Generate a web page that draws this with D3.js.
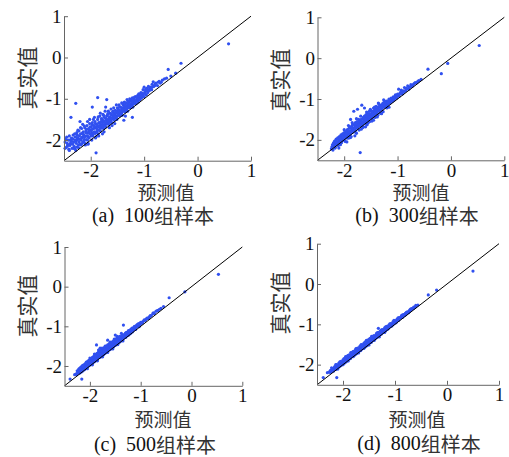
<!DOCTYPE html>
<html>
<head>
<meta charset="utf-8">
<title>预测值与真实值</title>
<script src="https://d3js.org/d3.v7.min.js"></script>
<style>
  html, body { margin: 0; padding: 0; background: #fff; }
  svg { display: block; }
</style>
</head>
<body>
<div id="chart"></div>
<script>
// [预测值, 真实值] pairs
var samples100 = [
  [-2.48,-2.05],[-2.46,-2.18],[-2.45,-1.93],[-2.43,-2.12],[-2.41,-2.22],[-2.42,-2.0],
  [-2.38,-2.08],[-2.36,-1.95],[-2.35,-2.2],[-2.33,-1.88],[-2.32,-2.05],[-2.31,-2.15],[-2.37,-1.45],[-2.34,-1.98],
  [-2.29,-1.92],[-2.28,-1.11],[-2.27,-2.08],[-2.26,-1.82],[-2.25,-2.0],[-2.24,-1.95],[-2.23,-2.12],[-2.22,-1.78],[-2.21,-1.9],[-2.22,-2.05],
  [-2.19,-1.85],[-2.18,-2.0],[-2.17,-1.72],[-2.16,-1.93],[-2.15,-2.05],[-2.14,-1.8],[-2.13,-1.88],[-2.12,-1.98],[-2.11,-1.7],[-2.11,-2.08],[-2.15,-1.62],
  [-2.09,-1.78],[-2.08,-1.9],[-2.07,-1.65],[-2.06,-2.0],[-2.05,-1.83],[-2.04,-1.72],[-2.03,-1.95],[-2.02,-1.6],[-2.01,-1.85],[-2.0,-1.75],[-2.05,-2.08],[-2.02,-1.5],
  [-1.99,-1.68],[-1.98,-1.82],[-1.97,-1.58],[-1.96,-1.9],[-1.95,-1.72],[-1.94,-1.65],[-1.93,-1.8],[-1.92,-1.55],[-1.91,-1.95],[-1.9,-2.31],[-1.87,-0.97],[-1.93,-1.45],[-1.9,-1.7],
  [-1.89,-1.62],[-1.88,-1.75],[-1.87,-1.5],[-1.86,-1.85],[-1.85,-1.58],[-1.84,-1.68],[-1.83,-1.42],[-1.82,-1.78],[-1.81,-1.55],[-1.8,-1.65],[-1.85,-1.9],[-1.82,-1.35],
  [-1.79,-1.5],[-1.78,-1.62],[-1.77,-1.38],[-1.76,-1.72],[-1.75,-1.45],[-1.74,-1.58],[-1.73,-1.3],[-1.72,-1.68],[-1.71,-1.52],[-1.7,-1.42],[-1.75,-1.8],[-1.72,-1.2],
  [-1.69,-1.4],[-1.68,-1.55],[-1.67,-1.3],[-1.66,-1.62],[-1.65,-1.45],[-1.64,-1.35],[-1.63,-1.5],[-1.62,-1.25],[-1.61,-1.58],[-1.6,-1.4],[-1.65,-1.7],
  [-1.59,-1.32],[-1.58,-1.45],[-1.57,-1.22],[-1.56,-1.52],[-1.55,-1.38],[-1.54,-1.28],[-1.53,-1.42],[-1.52,-1.15],[-1.51,-1.5],[-1.5,-1.3],[-1.55,-1.6],
  [-1.49,-1.25],[-1.48,-1.38],[-1.47,-1.15],[-1.46,-1.42],[-1.45,-1.3],[-1.44,-1.2],[-1.43,-1.35],[-1.42,-1.1],[-1.41,-1.4],[-1.4,-1.22],[-1.38,-1.52],
  [-1.39,-1.15],[-1.38,-1.28],[-1.37,-1.08],[-1.36,-1.32],[-1.35,-1.2],[-1.34,-1.1],[-1.33,-1.25],[-1.32,-1.02],[-1.31,-1.3],[-1.3,-1.15],
  [-1.29,-1.08],[-1.28,-1.2],[-1.27,-1.0],[-1.26,-1.22],[-1.25,-1.12],[-1.24,-1.02],[-1.23,-1.15],[-1.22,-0.98],[-1.21,-1.2],[-1.2,-1.05],[-1.22,-1.45],
  [-1.19,-1.0],[-1.18,-1.1],[-1.16,-0.95],[-1.15,-1.12],[-1.14,-1.02],[-1.12,-0.92],[-1.11,-1.08],[-1.1,-0.98],
  [-1.09,-0.92],[-1.08,-1.02],[-1.06,-0.85],[-1.05,-0.98],[-1.03,-0.9],[-1.02,-0.78],[-1.0,-0.95],[-1.0,-0.72],
  [-0.98,-0.82],[-0.96,-0.9],[-0.95,-0.75],[-0.93,-0.85],[-0.92,-0.7],[-0.9,-0.8],
  [-0.88,-0.72],[-0.86,-0.78],[-0.85,-0.65],[-0.83,-0.59],[-0.82,-0.7],[-0.8,-0.68],
  [-0.78,-0.62],[-0.75,-0.68],[-0.72,-0.58],[-0.7,-0.62],[-0.66,-0.55],[-0.62,-0.52],
  [-0.55,-0.29],[-0.5,-0.45],[-0.41,-0.38],[-0.31,-0.14],[0.58,0.33],
  [-2.3,-2.2],[-2.26,-2.17],[-2.2,-2.1],[-2.17,-2.09],[-2.13,-2.03],[-2.08,-1.99],[-2.04,-1.93],[-1.99,-1.9],[-1.96,-1.85],[-1.92,-1.84],
  [-1.88,-1.78],[-1.84,-1.76],[-1.8,-1.71],[-1.77,-1.68],[-1.73,-1.63],[-1.69,-1.61],[-1.66,-1.55],[-1.62,-1.54],[-1.58,-1.49],[-1.54,-1.46],
  [-1.5,-1.41],[-1.46,-1.37],[-1.42,-1.34],[-1.38,-1.3],[-1.34,-1.26],[-1.3,-1.22],[-1.26,-1.17],[-1.21,-1.13],[-1.17,-1.08],[-1.12,-1.04],
  [-1.07,-0.99],[-1.03,-0.95],
  [-2.47,-1.98],[-2.44,-2.08],[-2.4,-1.9],[-2.39,-2.13],[-2.36,-2.03],[-2.33,-1.97],[-2.3,-1.85],[-2.28,-2.02],[-2.26,-1.94],[-2.24,-1.76],
  [-2.21,-1.98],[-2.19,-1.7],[-2.17,-1.95],[-2.14,-1.86],[-2.12,-1.66],[-2.1,-1.91],[-2.08,-1.74],[-2.06,-1.55],[-2.04,-1.81],[-2.01,-1.68],
  [-1.99,-1.77],[-1.97,-1.63],[-1.95,-1.5],[-1.93,-1.71],[-1.91,-1.6],[-1.89,-1.82],[-1.87,-1.66],[-1.86,-1.44],[-1.84,-1.59],[-1.82,-1.7],
  [-1.8,-1.48],[-1.78,-1.56],[-1.76,-1.4],[-1.74,-1.64],[-1.72,-1.47],[-1.7,-1.58],[-1.68,-1.36],[-1.66,-1.49],[-1.64,-1.56],[-1.62,-1.38],
  [-1.6,-1.47],[-1.58,-1.3],[-1.56,-1.42],[-1.54,-1.35],[-1.52,-1.45],[-1.5,-1.22],[-1.48,-1.31],[-1.46,-1.2],[-1.44,-1.33],[-1.42,-1.25],
  [-1.4,-1.12],[-1.38,-1.22],[-1.36,-1.14],[-1.34,-1.3],[-1.32,-1.18],[-1.3,-1.06],[-1.28,-1.14],[-1.26,-1.05],[-1.24,-1.18],[-1.2,-1.12],
  [-1.18,-0.96],[-1.15,-1.05],[-1.13,-0.98],[-1.1,-0.88],[-1.07,-0.95],[-1.04,-0.86],[-1.01,-0.88],[-0.97,-0.77],[-0.94,-0.82],[-0.89,-0.75],
  [-0.84,-0.71],[-0.79,-0.64],[-0.74,-0.6],[-0.68,-0.6],[-0.58,-0.5],[-2.23,-2.18],[-2.05,-2.1],[-1.78,-1.85],[-1.6,-1.65],[-1.35,-1.42],
  [-1.7,-1.02],[-1.97,-1.2],[-2.2,-1.55],
  [-2.44,-2.15],[-2.39,-2.0],[-2.34,-2.1],[-2.29,-2.0],[-2.25,-1.88],[-2.2,-1.98],[-2.16,-1.84],[-2.12,-1.92],[-2.09,-1.82],[-2.06,-1.9],
  [-2.03,-1.77],[-2.0,-1.86],[-1.97,-1.74],[-1.94,-1.82],[-1.91,-1.68],[-1.88,-1.72],[-1.85,-1.66],[-1.82,-1.6],[-1.79,-1.66],[-1.76,-1.53],
  [-1.73,-1.58],[-1.7,-1.5],[-1.67,-1.54],[-1.64,-1.44],[-1.61,-1.48],[-1.58,-1.38],[-1.55,-1.44],[-1.52,-1.33],[-1.49,-1.36],[-1.46,-1.28],
  [-1.43,-1.3],[-1.4,-1.27],[-1.37,-1.2],[-1.34,-1.22],[-1.31,-1.12],[-1.28,-1.16],[-1.25,-1.06],[-1.22,-1.1],[-1.19,-1.04],[-1.16,-1.06],
  [-1.13,-0.96],[-1.1,-1.01],[-1.07,-0.9],[-1.04,-0.94],[-0.99,-0.86],[-0.95,-0.8],[-0.91,-0.78],[-0.87,-0.76],[-2.48,-2.2],[-2.4,-2.25],
  [-2.32,-2.2],[-2.28,-2.25],[-2.18,-2.12],[-2.1,-2.12],[-1.98,-2.0],[-1.9,-1.92]
];

var samples300 = [
  [-2.24,-2.22],[-2.22,-2.12],[-2.21,-2.25],[-2.2,-2.08],[-2.19,-2.15],[-2.18,-2.03],[-2.17,-2.18],[-2.16,-2.1],[-2.15,-1.98],[-2.14,-2.12],
  [-2.13,-2.05],[-2.12,-1.95],[-2.11,-2.14],[-2.1,-2.02],[-2.09,-1.92],[-2.08,-2.06],[-2.07,-1.98],[-2.06,-1.88],[-2.05,-2.07],[-2.04,-1.95],
  [-2.03,-1.85],[-2.02,-2.0],[-2.01,-1.9],[-2.0,-1.82],[-1.99,-2.02],[-1.98,-1.88],[-1.97,-1.8],[-1.96,-1.95],[-1.95,-1.84],[-1.94,-1.75],
  [-1.93,-1.96],[-1.92,-1.83],[-1.91,-1.72],[-1.9,-1.87],[-1.89,-1.79],[-1.88,-1.68],[-1.87,-1.92],[-1.86,-1.76],[-1.85,-1.65],[-1.84,-1.81],
  [-1.83,-1.72],[-1.82,-1.3],[-1.81,-1.78],[-1.8,-1.68],[-1.79,-1.58],[-1.78,-1.82],[-1.77,-1.66],[-1.76,-1.55],[-1.75,-1.72],[-1.74,-1.62],
  [-1.73,-1.5],[-1.72,-1.76],[-1.71,-1.6],[-1.7,-1.52],[-1.7,-2.31],[-1.69,-1.66],[-1.68,-1.55],[-1.67,-1.15],[-1.66,-1.62],[-1.65,-1.48],
  [-1.64,-1.68],[-1.63,-1.52],[-1.62,-1.42],[-1.61,-1.58],[-1.6,-1.47],[-1.59,-1.38],[-1.58,-1.62],[-1.57,-1.45],[-1.56,-1.35],[-1.55,-1.52],
  [-1.54,-1.42],[-1.53,-1.3],[-1.52,-1.55],[-1.51,-1.4],[-1.5,-1.28],[-1.49,-1.45],[-1.48,-1.35],[-1.47,-1.5],[-1.46,-1.32],[-1.45,-1.22],
  [-1.44,-1.4],[-1.43,-1.3],[-1.42,-1.45],[-1.41,-1.25],[-1.4,-1.18],[-1.39,-1.33],[-1.38,-1.24],[-1.37,-1.4],[-1.36,-1.2],[-1.35,-1.12],
  [-1.34,-1.28],[-1.33,-1.2],[-1.32,-1.35],[-1.31,-1.15],[-1.3,-1.22],[-1.28,-1.12],[-1.26,-1.2],[-1.25,-1.08],[-1.23,-1.15],[-1.21,-1.05],
  [-1.2,-1.22],[-1.18,-1.08],[-1.16,-1.0],[-1.14,-1.1],[-1.12,-0.98],[-1.1,-1.06],[-1.08,-0.95],[-1.06,-1.02],[-1.04,-0.9],[-1.02,-0.98],
  [-1.0,-0.88],[-0.98,-0.76],[-0.97,-0.93],[-0.95,-0.84],[-0.93,-0.78],[-0.91,-0.88],[-0.89,-0.8],[-0.87,-0.72],[-0.85,-0.8],[-0.83,-0.74],
  [-0.81,-0.68],[-0.79,-0.76],[-0.77,-0.7],[-0.75,-0.65],[-0.72,-0.68],[-0.7,-0.64],[-0.67,-0.6],[-0.64,-0.6],[-0.6,-0.55],[-0.56,-0.52],
  [-0.43,-0.27],[-0.18,-0.38],[-0.06,-0.13],[0.53,0.31],
  [-2.2,-2.17],[-2.15,-2.12],[-2.1,-2.07],[-2.05,-2.02],[-2.0,-1.96],[-1.95,-1.91],[-1.9,-1.86],[-1.85,-1.81],[-1.8,-1.76],[-1.75,-1.71],
  [-1.7,-1.66],[-1.65,-1.6],[-1.6,-1.56],[-1.55,-1.5],[-1.5,-1.46],[-1.45,-1.41],[-1.4,-1.36],[-1.35,-1.3],[-1.3,-1.26],[-1.25,-1.2],
  [-1.2,-1.16],[-1.15,-1.1],[-1.1,-1.04],
  [-2.1,-2.2],[-1.95,-2.05],[-1.8,-1.9],[-1.6,-1.68],[-1.45,-1.52],[-1.3,-1.36],
  [-2.23,-2.17],[-2.19,-2.06],[-2.16,-2.02],[-2.13,-2.09],[-2.11,-1.97],[-2.08,-1.94],[-2.06,-2.04],[-2.03,-1.91],[-2.01,-1.96],[-1.99,-1.86],
  [-1.97,-1.9],[-1.95,-1.78],[-1.93,-1.87],[-1.91,-1.8],[-1.89,-1.7],[-1.87,-1.83],[-1.86,-1.72],[-1.84,-1.62],[-1.82,-1.76],[-1.8,-1.63],
  [-1.78,-1.7],[-1.76,-1.6],[-1.74,-1.68],[-1.72,-1.56],[-1.7,-1.62],[-1.68,-1.5],[-1.66,-1.58],[-1.64,-1.45],[-1.62,-1.55],[-1.6,-1.42],
  [-1.58,-1.5],[-1.56,-1.4],[-1.54,-1.48],[-1.52,-1.36],[-1.5,-1.42],[-1.48,-1.3],[-1.46,-1.38],[-1.44,-1.28],[-1.42,-1.36],[-1.4,-1.26],
  [-1.38,-1.3],[-1.36,-1.25],[-1.34,-1.18],[-1.32,-1.26],[-1.29,-1.17],[-1.27,-1.1],[-1.24,-1.18],[-1.22,-1.1],[-1.19,-1.13],[-1.17,-1.04],
  [-1.13,-1.05],[-1.09,-1.0],[-1.05,-0.94],[-1.01,-0.93],[-0.96,-0.88],[-0.92,-0.82],[-0.88,-0.83],[-0.84,-0.77],[-0.78,-0.72],[-0.74,-0.69],
  [-0.69,-0.62],[-0.62,-0.57],[-1.65,-1.7],[-1.9,-1.95],[-1.55,-1.58],[-1.75,-1.25],[-1.62,-1.22],[-1.88,-1.5],
  [-2.2,-2.11],[-2.14,-2.04],[-2.08,-1.97],[-2.02,-1.93],[-1.96,-1.86],[-1.9,-1.8],[-1.84,-1.74],[-1.78,-1.68],[-1.72,-1.63],[-1.66,-1.57],
  [-1.6,-1.5],[-1.54,-1.45],[-1.48,-1.38],[-1.42,-1.33],[-1.36,-1.27],[-1.3,-1.2],[-1.24,-1.15],[-1.18,-1.1],[-1.12,-1.03],[-1.06,-0.97],
  [-2.17,-2.2],[-2.07,-2.12],[-1.98,-2.04],[-1.88,-1.94],[-1.77,-1.84],[-1.68,-1.74],[-1.57,-1.63],[-1.48,-1.54],[-1.38,-1.44],[-1.27,-1.31],
  [-1.16,-1.2],[-2.0,-1.75],[-1.92,-1.65],[-1.85,-1.58],[-1.77,-1.48],[-1.69,-1.42],[-1.58,-1.32],[-1.51,-1.25],[-1.43,-1.2],[-1.36,-1.1],
  [-1.26,-1.02]
];

var samples500 = [
  [-2.39,-2.33],[-2.16,-2.33],[-2.3,-2.22],[-2.27,-2.2],[-2.25,-2.12],[-2.23,-2.18],[-2.22,-2.08],[-2.2,-2.14],[-2.19,-2.05],[-2.18,-2.15],
  [-2.17,-2.02],[-2.16,-2.1],[-2.15,-2.0],[-2.14,-2.08],[-2.13,-1.98],[-2.12,-2.1],[-2.11,-2.0],[-2.1,-1.95],[-2.09,-2.05],[-2.08,-1.96],
  [-2.07,-1.9],[-2.06,-2.02],[-2.05,-1.93],[-2.04,-1.88],[-2.03,-1.99],[-2.02,-1.9],[-2.01,-1.85],[-2.0,-1.96],[-1.99,-1.88],[-1.98,-1.82],
  [-1.97,-1.93],[-1.96,-1.85],[-1.95,-1.78],[-1.94,-1.9],[-1.93,-1.82],[-1.92,-1.75],[-1.91,-1.88],[-1.9,-1.79],[-1.89,-1.72],[-1.88,-1.85],
  [-1.87,-1.47],[-1.87,-1.76],[-1.86,-1.68],[-1.85,-1.82],[-1.84,-1.73],[-1.83,-1.65],[-1.82,-1.78],[-1.81,-1.7],[-1.8,-1.62],[-1.79,-1.76],
  [-1.78,-1.67],[-1.77,-1.6],[-1.76,-1.73],[-1.75,-1.64],[-1.74,-1.56],[-1.73,-1.7],[-1.72,-1.6],[-1.71,-1.53],[-1.7,-1.66],[-1.69,-1.58],
  [-1.68,-1.5],[-1.67,-1.63],[-1.66,-1.55],[-1.65,-1.47],[-1.64,-1.6],[-1.63,-1.52],[-1.62,-1.44],[-1.61,-1.57],[-1.6,-1.49],[-1.59,-1.42],
  [-1.58,-1.55],[-1.57,-1.46],[-1.56,-1.39],[-1.55,-1.52],[-1.54,-1.43],[-1.53,-1.36],[-1.52,-1.49],[-1.51,-1.4],[-1.5,-1.33],[-1.49,-1.46],
  [-1.48,-1.37],[-1.47,-1.3],[-1.46,-1.43],[-1.45,-1.34],[-1.44,-1.28],[-1.43,-1.4],[-1.42,-1.31],[-1.41,-1.25],[-1.4,-1.36],[-1.38,-1.27],
  [-1.36,-1.22],[-1.34,-0.97],[-1.34,-1.28],[-1.32,-1.2],[-1.3,-1.24],[-1.28,-1.15],[-1.26,-1.2],[-1.24,-1.12],[-1.22,-1.16],[-1.2,-1.08],
  [-1.18,-1.12],[-1.16,-1.04],[-1.14,-1.08],[-1.12,-1.0],[-1.1,-1.04],[-1.08,-0.97],[-1.06,-1.0],[-1.04,-0.93],[-1.02,-0.97],[-1.0,-0.9],
  [-0.97,-0.92],[-0.94,-0.86],[-0.91,-0.85],[-0.88,-0.8],[-0.85,-0.8],[-0.82,-0.75],[-0.79,-0.73],[-0.76,-0.68],[-0.73,-0.68],[-0.7,-0.62],
  [-0.66,-0.6],[-0.6,-0.55],[-0.55,-0.5],[-0.44,-0.28],[-0.13,-0.13],[0.53,0.31],
  [-2.2,-2.18],[-2.1,-2.08],[-2.0,-1.98],[-1.9,-1.88],[-1.8,-1.78],[-1.7,-1.68],[-1.6,-1.58],[-1.5,-1.48],[-1.4,-1.38],[-1.3,-1.28],
  [-1.2,-1.18],[-2.15,-2.13],[-2.05,-2.03],[-1.95,-1.93],[-1.85,-1.83],[-1.75,-1.73],[-1.65,-1.63],[-1.55,-1.53],[-1.45,-1.43],[-1.35,-1.33],
  [-1.25,-1.23],
  [-2.26,-2.22],[-2.24,-2.16],[-2.21,-2.12],[-2.19,-2.13],[-2.17,-2.07],[-2.15,-2.1],[-2.13,-2.03],[-2.11,-2.05],[-2.09,-1.98],[-2.07,-2.0],
  [-2.05,-1.97],[-2.03,-1.93],[-2.01,-1.95],[-1.99,-1.91],[-1.97,-1.86],[-1.95,-1.88],[-1.93,-1.85],[-1.91,-1.79],[-1.89,-1.82],[-1.87,-1.8],
  [-1.85,-1.74],[-1.83,-1.76],[-1.81,-1.74],[-1.79,-1.68],[-1.77,-1.7],[-1.75,-1.68],[-1.73,-1.62],[-1.71,-1.64],[-1.69,-1.63],[-1.67,-1.56],
  [-1.65,-1.58],[-1.63,-1.57],[-1.61,-1.5],[-1.59,-1.52],[-1.57,-1.52],[-1.55,-1.45],[-1.53,-1.47],[-1.51,-1.46],[-1.49,-1.39],[-1.47,-1.41],
  [-1.45,-1.4],[-1.43,-1.33],[-1.41,-1.36],[-1.39,-1.32],[-1.37,-1.3],[-1.35,-1.26],[-1.33,-1.24],[-1.31,-1.27],[-1.29,-1.2],[-1.27,-1.22],
  [-1.25,-1.17],[-1.23,-1.19],[-1.21,-1.13],[-1.19,-1.15],[-1.17,-1.1],[-1.15,-1.1],[-1.13,-1.05],[-1.11,-1.07],[-1.09,-1.02],[-1.05,-0.98],
  [-1.01,-0.95],[-0.96,-0.89],[-0.9,-0.83],[-0.84,-0.78],[-1.95,-1.97],[-1.75,-1.77],[-1.55,-1.57],[-1.35,-1.37],[-2.05,-2.07],[-1.85,-1.87],
  [-1.65,-1.66],[-1.45,-1.46],[-1.8,-1.55],[-1.65,-1.35],[-1.5,-1.22],
  [-2.2,-2.06],[-2.14,-2.0],[-2.08,-1.93],[-2.02,-1.87],[-1.96,-1.81],[-1.9,-1.75],[-1.84,-1.69],[-1.78,-1.63],[-1.72,-1.57],[-1.66,-1.51],
  [-1.6,-1.45],[-1.54,-1.39],[-1.48,-1.33],[-1.42,-1.28],[-1.36,-1.23],[-1.3,-1.17],[-1.24,-1.11],[-1.18,-1.06],[-1.12,-1.01],[-1.06,-0.95],
  [-0.99,-0.9],[-0.93,-0.84],[-0.87,-0.79],[-0.81,-0.73],[-0.75,-0.66],[-0.68,-0.61],[-0.63,-0.57],
  [-2.17,-2.15],[-2.11,-2.09],[-2.04,-2.02],[-1.98,-1.96],[-1.92,-1.9],[-1.86,-1.84],[-1.79,-1.77],[-1.73,-1.71],[-1.67,-1.65],[-1.61,-1.59],
  [-1.54,-1.52],[-1.48,-1.46],[-1.42,-1.4],[-1.36,-1.34],[-1.29,-1.27],[-1.23,-1.21],[-1.16,-1.14],[-1.1,-1.08],[-1.03,-1.01],
  [-2.0,-1.8],[-1.91,-1.7],[-1.83,-1.6],[-1.76,-1.55],[-1.7,-1.5],[-1.6,-1.4],[-1.52,-1.32],[-1.46,-1.25],[-1.38,-1.18]
];

var samples800 = [
  [-2.38,-2.32],[-2.12,-2.32],[-2.3,-2.2],[-2.26,-2.18],[-2.24,-2.14],[-2.22,-2.17],[-2.21,-2.12],[-2.2,-2.15],[-2.19,-2.1],[-2.18,-2.14],
  [-2.17,-2.08],[-2.16,-2.12],[-2.15,-2.06],[-2.14,-2.11],[-2.13,-2.04],[-2.12,-2.09],[-2.11,-2.02],[-2.1,-2.07],[-2.09,-2.01],[-2.08,-2.06],
  [-2.07,-1.99],[-2.06,-2.03],[-2.05,-1.97],[-2.04,-2.02],[-2.03,-1.95],[-2.02,-2.0],[-2.01,-1.93],[-2.0,-1.97],[-1.99,-1.92],[-1.98,-1.95],
  [-1.97,-1.89],[-1.96,-1.94],[-1.95,-1.87],[-1.94,-1.91],[-1.93,-1.85],[-1.92,-1.9],[-1.91,-1.83],[-1.9,-1.87],[-1.89,-1.82],[-1.88,-1.85],
  [-1.87,-1.79],[-1.86,-1.84],[-1.85,-1.77],[-1.84,-1.81],[-1.83,-1.75],[-1.82,-1.8],[-1.81,-1.73],[-1.8,-1.77],[-1.79,-1.72],[-1.78,-1.75],
  [-1.77,-1.69],[-1.76,-1.74],[-1.75,-1.67],[-1.74,-1.71],[-1.73,-1.65],[-1.72,-1.7],[-1.71,-1.63],[-1.7,-1.67],[-1.69,-1.62],[-1.68,-1.65],
  [-1.67,-1.59],[-1.66,-1.64],[-1.65,-1.57],[-1.64,-1.61],[-1.63,-1.55],[-1.62,-1.6],[-1.61,-1.53],[-1.6,-1.57],[-1.59,-1.52],[-1.58,-1.55],
  [-1.57,-1.49],[-1.56,-1.54],[-1.55,-1.47],[-1.54,-1.51],[-1.53,-1.45],[-1.52,-1.5],[-1.51,-1.43],[-1.5,-1.47],[-1.49,-1.42],[-1.48,-1.45],
  [-1.47,-1.39],[-1.46,-1.44],[-1.45,-1.37],[-1.44,-1.41],[-1.43,-1.35],[-1.42,-1.4],[-1.41,-1.33],[-1.4,-1.37],[-1.38,-1.31],[-1.36,-1.33],
  [-1.34,-1.26],[-1.32,-1.1],[-1.32,-1.28],[-1.3,-1.23],[-1.28,-1.25],[-1.26,-1.19],[-1.24,-1.21],[-1.22,-1.15],[-1.2,-1.17],[-1.18,-1.12],
  [-1.16,-1.13],[-1.14,-1.07],[-1.12,-1.09],[-1.1,-1.03],[-1.08,-1.05],[-1.06,-0.99],[-1.04,-1.01],[-1.02,-0.95],[-1.0,-0.97],[-0.97,-0.91],
  [-0.94,-0.9],[-0.91,-0.85],[-0.87,-0.78],[-0.85,-0.81],[-0.82,-0.76],[-0.79,-0.75],[-0.76,-0.7],[-0.72,-0.68],[-0.68,-0.63],[-0.64,-0.6],
  [-0.6,-0.56],[-0.56,-0.52],[-0.36,-0.27],[-0.2,-0.15],[0.5,0.32],
  [-2.1,-2.11],[-1.9,-1.91],[-1.7,-1.71],[-1.5,-1.51],[-1.3,-1.31],[-2.0,-2.0],[-1.8,-1.8],[-1.6,-1.6],[-1.4,-1.4],[-1.2,-1.2],
  [-2.25,-2.19],[-2.23,-2.16],[-2.21,-2.15],[-2.19,-2.13],[-2.17,-2.11],[-2.15,-2.09],[-2.13,-2.07],[-2.11,-2.05],[-2.09,-2.03],[-2.07,-2.02],
  [-2.05,-2.0],[-2.03,-1.98],[-2.01,-1.96],[-1.99,-1.94],[-1.97,-1.92],[-1.95,-1.9],[-1.93,-1.88],[-1.91,-1.86],[-1.89,-1.84],[-1.87,-1.82],
  [-1.85,-1.8],[-1.83,-1.78],[-1.81,-1.76],[-1.79,-1.74],[-1.77,-1.72],[-1.75,-1.7],[-1.73,-1.68],[-1.71,-1.66],[-1.69,-1.64],[-1.67,-1.62],
  [-1.65,-1.6],[-1.63,-1.58],[-1.61,-1.56],[-1.59,-1.54],[-1.57,-1.52],[-1.55,-1.5],[-1.53,-1.48],[-1.51,-1.46],[-1.49,-1.44],[-1.47,-1.42],
  [-1.45,-1.4],[-1.43,-1.38],[-1.41,-1.36],[-1.39,-1.34],[-1.37,-1.3],[-1.35,-1.29],[-1.33,-1.28],[-1.31,-1.25],[-1.29,-1.22],[-1.27,-1.21],
  [-1.25,-1.2],[-1.23,-1.17],[-1.21,-1.14],[-1.19,-1.13],[-1.17,-1.1],[-1.15,-1.1],[-1.13,-1.06],[-1.11,-1.05],[-1.09,-1.02],[-1.05,-1.0],
  [-1.01,-0.96],[-0.95,-0.88],[-0.89,-0.84],[-0.83,-0.77],[-0.78,-0.72],[-0.7,-0.64],[-0.66,-0.61],[-0.62,-0.58],[-1.95,-1.8],[-1.85,-1.7],
  [-1.75,-1.6],[-1.65,-1.5],[-1.55,-1.4],[-1.45,-1.3],[-1.35,-1.22],
  [-2.2,-2.1],[-2.16,-2.05],[-2.12,-2.0],[-2.08,-1.96],[-2.04,-1.92],[-2.0,-1.88],[-1.96,-1.84],[-1.92,-1.79],[-1.88,-1.76],[-1.84,-1.72],
  [-1.8,-1.67],[-1.76,-1.63],[-1.72,-1.59],[-1.68,-1.55],[-1.64,-1.51],[-1.6,-1.47],[-1.56,-1.43],[-1.52,-1.39],[-1.48,-1.35],[-1.44,-1.31],
  [-1.4,-1.28],[-1.36,-1.24],[-1.32,-1.2],[-1.28,-1.16],[-1.24,-1.13],[-1.2,-1.09],[-1.16,-1.05],[-1.12,-1.02],[-1.08,-0.98],[-1.04,-0.94],
  [-1.0,-0.91],[-0.96,-0.87],[-0.92,-0.83],[-0.88,-0.8],[-0.84,-0.76],[-0.8,-0.73],[-0.76,-0.69],[-0.72,-0.65],[-0.68,-0.61],[-0.64,-0.57],
  [-0.6,-0.53],
  [-2.18,-2.16],[-2.14,-2.12],[-2.06,-2.04],[-1.98,-1.97],[-1.94,-1.93],[-1.86,-1.85],[-1.78,-1.77],[-1.74,-1.73],[-1.66,-1.65],[-1.58,-1.57],
  [-1.54,-1.53],[-1.46,-1.45],[-1.38,-1.36],[-1.34,-1.32],[-1.26,-1.24],[-1.18,-1.16],[-1.14,-1.12],[-1.06,-1.04],[-0.98,-0.96],[-0.93,-0.9],
  [-0.86,-0.83],[-0.81,-0.78],[-0.74,-0.71],
  [-2.22,-2.08],[-2.14,-2.0],[-2.06,-1.93],[-1.98,-1.85],[-1.9,-1.77],[-1.82,-1.69],[-1.74,-1.61],[-1.66,-1.53],[-1.58,-1.45],[-1.5,-1.37],
  [-1.42,-1.29],[-1.34,-1.21],[-1.26,-1.14],[-1.18,-1.06],[-1.1,-0.99],[-1.02,-0.9],[-0.94,-0.84],[-0.86,-0.77],[-0.78,-0.7],[-0.7,-0.62]
];

var tickValues = [-2, -1, 0, 1];
var axisDomain = [-2.5, 1];
var captions = ["(a)", "(b)", "(c)", "(d)"];
var sampleCounts = ["100", "300", "500", "800"];
var xTitle = "预测值";
var yTitle = "真实值";

// pixel layout of each panel
var panels = [
  { data: samples100, x0: 64,    x1: 251,   y0: 160.7, y1: 16.2,  xlab: 166, xlabY: 191,   ylabY: 78,  capX: 153, capY: 214.5 },
  { data: samples300, x0: 317.5, x1: 504.3, y0: 160.3, y1: 17.3,  xlab: 421, xlabY: 191,   ylabY: 80,  capX: 417, capY: 214.5 },
  { data: samples500, x0: 64.5,  x1: 242.3, y0: 385.8, y1: 247,   xlab: 163, xlabY: 418,   ylabY: 306, capX: 155, capY: 444 },
  { data: samples800, x0: 317,   x1: 499,   y0: 384.8, y1: 243.7, xlab: 417, xlabY: 418,   ylabY: 303, capX: 419, capY: 443 }
];

var svg = d3.select('#chart').append('svg')
    .attr('width', 509)
    .attr('height', 457);

var serif = "'Liberation Serif', 'Times New Roman', serif";
var cjk = "'Noto Sans CJK SC', sans-serif";

panels.forEach(function (p, i) {
    var x = d3.scaleLinear().domain(axisDomain).range([p.x0, p.x1]);
    var y = d3.scaleLinear().domain(axisDomain).range([p.y0, p.y1]);
    var g = svg.append('g');

    // points
    g.append('g').selectAll('circle')
        .data(p.data)
        .enter()
        .append('circle')
        .attr('cx', function (d) { return x(d[0]); })
        .attr('cy', function (d) { return y(d[1]); })
        .attr('r', 1.6)
        .attr('fill', '#3050f0');

    // y = x line
    g.append('line')
        .attr('x1', x(axisDomain[0])).attr('y1', y(axisDomain[0]))
        .attr('x2', x(axisDomain[1])).attr('y2', y(axisDomain[1]))
        .attr('stroke', '#000')
        .attr('stroke-width', 1);

    var xAxis = d3.axisBottom(x)
        .tickValues(tickValues)
        .tickFormat(function (d) { return String(d); })
        .tickSizeInner(-4)
        .tickSizeOuter(0)
        .tickPadding(3);
    var yAxis = d3.axisLeft(y)
        .tickValues(tickValues)
        .tickFormat(function (d) { return String(d); })
        .tickSizeInner(-4)
        .tickSizeOuter(0)
        .tickPadding(2.5);

    var gx = g.append('g')
        .attr('transform', 'translate(0,' + p.y0 + ')')
        .call(xAxis);
    var gy = g.append('g')
        .attr('transform', 'translate(' + p.x0 + ',0)')
        .call(yAxis);

    [gx, gy].forEach(function (a) {
        a.select('.domain').attr('stroke', '#666');
        a.selectAll('.tick line').attr('stroke', '#666');
        a.selectAll('.tick text')
            .attr('fill', '#111')
            .style('font-family', serif)
            .style('font-size', '19px');
    });

    // axis titles
    g.append('text')
        .attr('x', p.xlab)
        .attr('y', p.xlabY)
        .attr('text-anchor', 'middle')
        .attr('dominant-baseline', 'central')
        .style('font-family', cjk)
        .style('font-size', '19px')
        .attr('fill', '#333')
        .text(xTitle);

    g.append('text')
        .attr('transform', 'translate(' + (p.x0 - 38.5) + ',' + p.ylabY + ') rotate(-90)')
        .attr('text-anchor', 'middle')
        .attr('dominant-baseline', 'central')
        .style('font-family', cjk)
        .style('font-size', '21px')
        .attr('fill', '#333')
        .text(yTitle);

    // caption
    var cap = g.append('text')
        .attr('x', p.capX)
        .attr('y', p.capY)
        .attr('text-anchor', 'middle')
        .attr('dominant-baseline', 'central')
        .attr('fill', '#111')
        .style('font-size', '20px');
    cap.append('tspan').style('font-family', serif).text(captions[i]);
    cap.append('tspan').attr('dx', 10).style('font-family', serif).text(sampleCounts[i]);
    cap.append('tspan').style('font-family', cjk).attr('fill', '#333').text('组样本');
});
</script>
</body>
</html>
